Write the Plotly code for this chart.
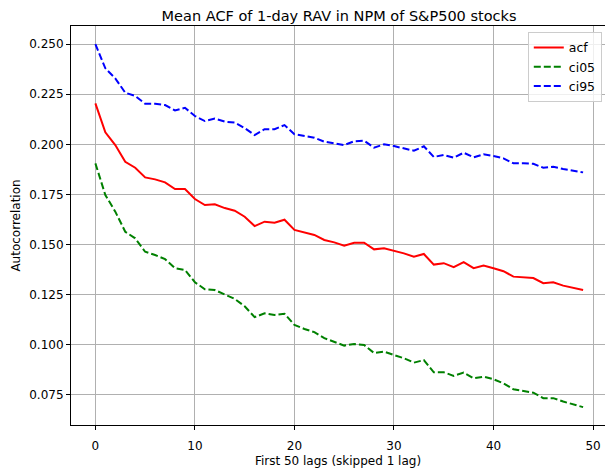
import plotly.graph_objects as go

lags = list(range(50))
acf = [0.2204, 0.2060, 0.1996, 0.1913, 0.1883, 0.1835, 0.1825, 0.1810, 0.1777, 0.1777,
       0.1727, 0.1697, 0.1701, 0.1682, 0.1669, 0.1639, 0.1592, 0.1614, 0.1609, 0.1624,
       0.1573, 0.1559, 0.1548, 0.1523, 0.1511, 0.1494, 0.1509, 0.1509, 0.1476, 0.1482,
       0.1470, 0.1456, 0.1439, 0.1453, 0.1400, 0.1407, 0.1387, 0.1412, 0.1382, 0.1395,
       0.1382, 0.1367, 0.1340, 0.1337, 0.1333, 0.1307, 0.1312, 0.1295, 0.1285, 0.1273]
ci05 = [0.1905, 0.1747, 0.1664, 0.1564, 0.1531, 0.1464, 0.1448, 0.1427, 0.1382, 0.1373,
        0.1312, 0.1277, 0.1273, 0.1249, 0.1229, 0.1192, 0.1138, 0.1157, 0.1149, 0.1155,
        0.1099, 0.1079, 0.1063, 0.1033, 0.1016, 0.0996, 0.1004, 0.0999, 0.0959, 0.0966,
        0.0949, 0.0933, 0.0911, 0.0924, 0.0863, 0.0863, 0.0845, 0.0861, 0.0833, 0.0841,
        0.0828, 0.0808, 0.0778, 0.0771, 0.0761, 0.0734, 0.0734, 0.0717, 0.0704, 0.0689]
ci95 = [0.2500, 0.2379, 0.2329, 0.2257, 0.2241, 0.2202, 0.2202, 0.2196, 0.2169, 0.2182,
        0.2141, 0.2116, 0.2128, 0.2113, 0.2108, 0.2081, 0.2046, 0.2075, 0.2075, 0.2096,
        0.2050, 0.2040, 0.2033, 0.2013, 0.2006, 0.1996, 0.2015, 0.2018, 0.1983, 0.2000,
        0.1991, 0.1980, 0.1968, 0.1990, 0.1937, 0.1947, 0.1933, 0.1958, 0.1935, 0.1950,
        0.1942, 0.1930, 0.1905, 0.1905, 0.1903, 0.1883, 0.1888, 0.1877, 0.1868, 0.1860]
y_ticks = [0.075, 0.100, 0.125, 0.150, 0.175, 0.200, 0.225, 0.250]
x_ticks = [0, 10, 20, 30, 40, 50]

fig = go.Figure()
fig.add_trace(go.Scatter(x=lags, y=acf, mode="lines", name="acf",
                         line=dict(color="#ff0000", width=2)))
fig.add_trace(go.Scatter(x=lags, y=ci05, mode="lines", name="ci05",
                         line=dict(color="#008000", width=2, dash="7px,3px")))
fig.add_trace(go.Scatter(x=lags, y=ci95, mode="lines", name="ci95",
                         line=dict(color="#0000ff", width=2, dash="7px,3px")))

font = "DejaVu Sans, sans-serif"
fig.update_layout(
    width=605, height=470,
    margin=dict(l=71, r=0, t=26, b=45),
    paper_bgcolor="white", plot_bgcolor="white",
    font=dict(family=font, size=12, color="black"),
    title=dict(text="Mean ACF of 1-day RAV in NPM of S&P500 stocks",
               x=0.502, xref="paper", xanchor="center",
               y=1, yref="paper", yanchor="bottom", pad=dict(b=5),
               font=dict(family=font, size=14.5, color="black")),
    showlegend=True,
    legend=dict(x=0.994, y=0.985, xanchor="right", yanchor="top",
                bgcolor="rgba(255,255,255,0.8)", bordercolor="#cccccc", borderwidth=1,
                font=dict(family=font, size=12.5), tracegroupgap=0,
                itemwidth=30),
)
fig.update_xaxes(range=[-2.45, 51.2], tickvals=x_ticks, ticktext=[str(v) for v in x_ticks],
                 showgrid=True, gridcolor="#b0b0b0", gridwidth=1, zeroline=False,
                 showline=True, linecolor="black", linewidth=1, mirror=True,
                 ticks="outside", ticklen=4, tickcolor="black", ticklabelstandoff=6,
                 automargin=False,
                 tickfont=dict(family=font, size=12),
                 title=dict(text="First 50 lags (skipped 1 lag)", standoff=4,
                            font=dict(family=font, size=12)))
fig.update_yaxes(range=[0.060, 0.259], tickvals=y_ticks, ticktext=["%.3f" % v for v in y_ticks],
                 showgrid=True, gridcolor="#b0b0b0", gridwidth=1, zeroline=False,
                 showline=True, linecolor="black", linewidth=1, mirror=True,
                 ticks="outside", ticklen=4, tickcolor="black",
                 automargin=False,
                 tickfont=dict(family=font, size=12),
                 title=dict(text="Autocorrelation", standoff=6,
                            font=dict(family=font, size=12)))

fig.write_html("out.html")
